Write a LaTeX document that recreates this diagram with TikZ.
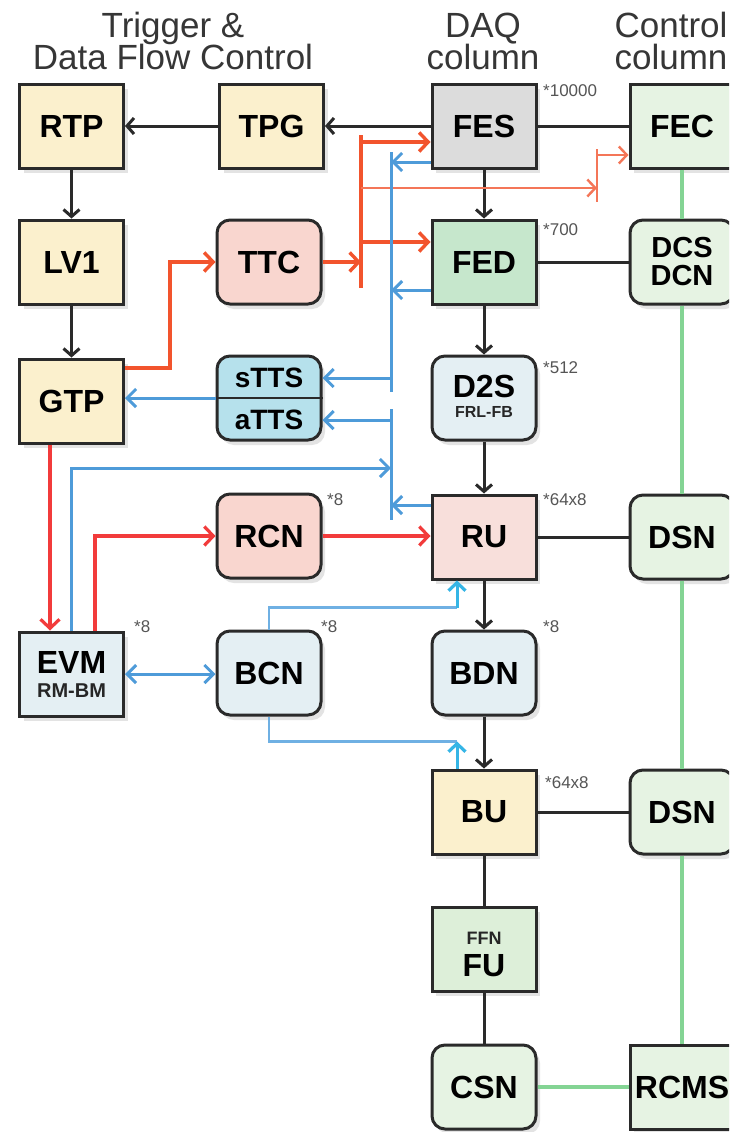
\documentclass[tikz,border=0pt]{standalone}
\usepackage{fontspec}
\setmainfont{Liberation Sans}
\usetikzlibrary{arrows.meta,shadows,calc}

\definecolor{edge}{HTML}{2A2A2A}
\definecolor{cream}{HTML}{FBF0CD}
\definecolor{greybox}{HTML}{DCDCDC}
\definecolor{palegreen}{HTML}{E6F3E3}
\definecolor{fedgreen}{HTML}{C6E7CC}
\definecolor{fugreen}{HTML}{DDEFD9}
\definecolor{pink}{HTML}{F9D6CF}
\definecolor{rupink}{HTML}{F8DFDB}
\definecolor{ttsblue}{HTML}{B6E1EC}
\definecolor{paleblue}{HTML}{E4EFF3}
\definecolor{ttcred}{HTML}{F2542D}
\definecolor{thinred}{HTML}{F47658}
\definecolor{brightred}{HTML}{F23B3B}
\definecolor{ttsline}{HTML}{4E9BD9}
\definecolor{bcnline}{HTML}{6FB0E3}
\definecolor{tipcyan}{HTML}{35B5E6}
\definecolor{ctrlgreen}{HTML}{84D494}
\definecolor{startext}{HTML}{555555}
\definecolor{headtext}{HTML}{363636}

\newcommand\boxfont{\fontsize{32}{32}\selectfont\bfseries}
\newcommand\subfont{\fontsize{18}{18}\selectfont\bfseries}
\newcommand\starfont{\fontsize{17}{17}\selectfont}
\newcommand\headfont{\fontsize{35}{32}\selectfont}

\begin{document}
\begin{tikzpicture}[x=1pt,y=-1pt,
  box/.style={draw=edge, line width=3pt, minimum width=104pt, minimum height=84pt,
    inner sep=0pt, font=\boxfont, text=black,
    drop shadow={opacity=0.22, shadow xshift=4pt, shadow yshift=-5pt}},
  rbox/.style={box, rounded corners=13pt},
  sublabel/.style={font=\subfont, inner sep=0pt, text=black!85},
  star/.style={font=\starfont, text=startext, inner sep=0pt, anchor=west},
  head/.style={font=\headfont, text=headtext, inner sep=0pt, anchor=base},
  blk/.style={draw=edge, line width=3pt},
  blkarr/.style={blk, -{Straight Barb[length=7pt,width=16pt,line width=3pt]}},
  ttcl/.style={draw=ttcred, line width=3.4pt},
  ttcarr/.style={ttcl, -{Straight Barb[length=9pt,width=19pt,line width=3.4pt]}},
  thinl/.style={draw=thinred, line width=2pt},
  thinarr/.style={thinl, -{Straight Barb[length=8pt,width=17pt,line width=2.4pt]}},
  redl/.style={draw=brightred, line width=3.2pt},
  redarr/.style={redl, -{Straight Barb[length=9pt,width=19pt,line width=3.2pt]}},
  bluel/.style={draw=ttsline, line width=3pt},
  bluearr/.style={bluel, -{Straight Barb[length=9pt,width=18pt,line width=3pt]}},
  bcnl/.style={draw=bcnline, line width=2.6pt},
  cyanarr/.style={draw=tipcyan, line width=3pt, -{Straight Barb[length=8pt,width=17pt,line width=3.2pt]}},
  grn/.style={draw=ctrlgreen, line width=3.4pt}]

\useasboundingbox (0,0) rectangle (729,1132);
\clip (0,0) rectangle (729,1132);
\fill[white] (0,0) rectangle (729,1132);

% column headings
\node[head] (h1) at (173,38) {Trigger \&};
\node[head] (h2) at (173,70) {Data Flow Control};
\node[head] (h3) at (483,38) {DAQ};
\node[head] (h4) at (483,70) {column};
\node[head] (h5) at (671,38) {Control};
\node[head] (h6) at (671,70) {column};

% trigger and flow control column
\node[box, fill=cream] (RTP) at (71.5,126) {RTP};
\node[box, fill=cream] (TPG) at (271.5,126) {TPG};
\node[box, fill=cream] (LV1) at (71.5,262) {LV1};
\node[rbox, fill=pink] (TTC) at (269,262) {TTC};
\node[box, fill=cream] (GTP) at (71.5,401) {GTP};
\node[rbox, fill=ttsblue] (TTS) at (269,398) {};
\draw[draw=edge, line width=1.8pt] (TTS.west) -- (TTS.east);
\node[font=\fontsize{28}{28}\selectfont\bfseries, inner sep=0pt] (sTTS) at ([yshift=20pt]TTS.center) {sTTS};
\node[font=\fontsize{28}{28}\selectfont\bfseries, inner sep=0pt] (aTTS) at ([yshift=-22pt]TTS.center) {aTTS};
\node[rbox, fill=pink] (RCN) at (269,536) {RCN};
\node[box, fill=paleblue] (EVM) at (71.5,674) {};
\node[font=\boxfont, inner sep=0pt] (EVMt) at ([yshift=12pt]EVM.center) {EVM};
\node[sublabel, font=\fontsize{20}{20}\selectfont\bfseries] (EVMs) at ([yshift=-17pt]EVM.center) {RM-BM};
\node[rbox, fill=paleblue] (BCN) at (269,673) {BCN};

% DAQ column
\node[box, fill=greybox] (FES) at (484,126) {FES};
\node[box, fill=fedgreen] (FED) at (484,262) {FED};
\node[rbox, fill=paleblue] (D2S) at (484,398) {};
\node[font=\boxfont, inner sep=0pt] (D2St) at ([yshift=12pt]D2S.center) {D2S};
\node[sublabel, font=\fontsize{16}{16}\selectfont\bfseries] (D2Ss) at ([yshift=-14pt]D2S.center) {FRL-FB};
\node[box, fill=rupink] (RU) at (484,537) {RU};
\node[rbox, fill=paleblue] (BDN) at (484,673) {BDN};
\node[box, fill=cream] (BU) at (484,812) {BU};
\node[box, fill=fugreen] (FU) at (484,949) {};
\node[sublabel] (FFN) at ([yshift=11pt]FU.center) {FFN};
\node[font=\boxfont, inner sep=0pt] (FUt) at ([yshift=-17pt]FU.center) {FU};
\node[rbox, fill=palegreen] (CSN) at (484,1087) {CSN};

% control column
\node[box, fill=palegreen] (FEC) at (682,126) {FEC};
\node[rbox, fill=palegreen, align=center, font=\fontsize{29}{28}\selectfont\bfseries] (DCS) at (682,262) {DCS\\DCN};
\node[rbox, fill=palegreen] (DSN1) at (682,537) {DSN};
\node[rbox, fill=palegreen] (DSN2) at (682,812) {DSN};
\node[box, fill=palegreen] (RCMS) at (682,1087) {RCMS};

% multiplicities
\node[star] (m1) at (543,91) {*10000};
\node[star] (m2) at (543,230) {*700};
\node[star] (m3) at (543,368) {*512};
\node[star] (m4) at (543,500) {*64x8};
\node[star] (m5) at (327,500) {*8};
\node[star] (m6) at (134,627) {*8};
\node[star] (m7) at (321,627) {*8};
\node[star] (m8) at (543,627) {*8};
\node[star] (m9) at (545,783) {*64x8};

% control network (green)
\draw[grn] (FEC) -- (DCS);
\draw[grn] (DCS) -- (DSN1);
\draw[grn] (DSN1) -- (DSN2);
\draw[grn] (DSN2) -- (RCMS);
\draw[grn] (CSN) -- (RCMS);

% data path (black)
\draw[blkarr] (FES) -- (TPG);
\draw[blkarr] (TPG) -- (RTP);
\draw[blkarr] (RTP) -- (LV1);
\draw[blkarr] (LV1) -- (GTP);
\draw[blk] (FES) -- (FEC);
\draw[blkarr] (FES) -- (FED);
\draw[blk] (FED) -- (DCS);
\draw[blkarr] (FED) -- (D2S);
\draw[blkarr] (D2S) -- (RU);
\draw[blk] (RU) -- (DSN1);
\draw[blkarr] (RU) -- (BDN);
\draw[blkarr] (BDN) -- (BU);
\draw[blk] (BU) -- (DSN2);
\draw[blk] (BU) -- (FU);
\draw[blk] (FU) -- (CSN);

% timing and trigger distribution (TTC)
\coordinate (rbt) at (361,135);
\coordinate (rbb) at (361,288);
\coordinate (fesin) at ([yshift=-16pt]FES.west);
\coordinate (fedin) at ([yshift=20pt]FED.west);
\coordinate (fecin) at ([yshift=-29pt]FEC.west);
\coordinate (tick) at (597,188);
\coordinate (tickt) at (597,149);
\coordinate (tickb) at (597,202);
\draw[ttcarr] ([yshift=33pt]GTP.east) -- ++(45,0) |- (TTC.west);
\draw[ttcl] (rbt) -- (rbb);
\draw[ttcarr] (TTC.east) -- (TTC.east -| rbt);
\draw[ttcarr] (fesin -| rbt) -- (fesin);
\draw[ttcarr] (fedin -| rbt) -- (fedin);
\draw[thinarr] (tick -| rbt) -- (tick);
\draw[thinl] (tickt) -- (tickb);
\draw[thinarr] (fecin -| tick) -- (fecin);

% throttling (TTS)
\coordinate (bbt) at (391,152);
\coordinate (bbm) at (391,392);
\coordinate (blt) at (391,409);
\coordinate (blb) at (391,520);
\coordinate (fesout) at ([yshift=-36pt]FES.west);
\coordinate (fedout) at ([yshift=-28pt]FED.west);
\coordinate (ruout) at ([yshift=32pt]RU.west);
\coordinate (evmj) at (391,468);
\draw[bluel] (bbt) -- (bbm);
\draw[bluel] (blt) -- (blb);
\draw[bluearr] (fesout) -- (fesout -| bbt);
\draw[bluearr] (fedout) -- (fedout -| bbt);
\draw[bluearr] (sTTS.center -| bbt) -- (sTTS.center -| TTS.east);
\draw[bluearr] (aTTS.center -| blt) -- (aTTS.center -| TTS.east);
\draw[bluearr] (TTS.west) -- (TTS.west -| GTP.east);
\draw[bluearr] (EVM.north) |- (evmj);
\draw[bluearr] (ruout) -- (ruout -| blt);

% event building control
\draw[redarr] ([xshift=-21.5pt]GTP.south) -- ([xshift=-21.5pt]EVM.north);
\draw[redarr] ([xshift=23.5pt]EVM.north) |- (RCN.west);
\draw[redarr] (RCN.east) -- (RCN.east -| RU.west);
\draw[bluel, {Straight Barb[length=9pt,width=18pt,line width=3pt]}-{Straight Barb[length=9pt,width=18pt,line width=3pt]}] (EVM.east) -- (EVM.east -| BCN.west);

\coordinate (ruin) at ([xshift=-27pt]RU.south);
\coordinate (c1) at ($(ruin)+(0,27)$);
\coordinate (buin) at ([xshift=-27pt]BU.north);
\coordinate (c2) at ($(buin)+(0,-27)$);
\draw[bcnl] (BCN.north) |- (c1);
\draw[cyanarr] (c1) -- (ruin);
\draw[bcnl] (BCN.south) |- (c2);
\draw[cyanarr] (buin) -- (c2);
\end{tikzpicture}
\end{document}
